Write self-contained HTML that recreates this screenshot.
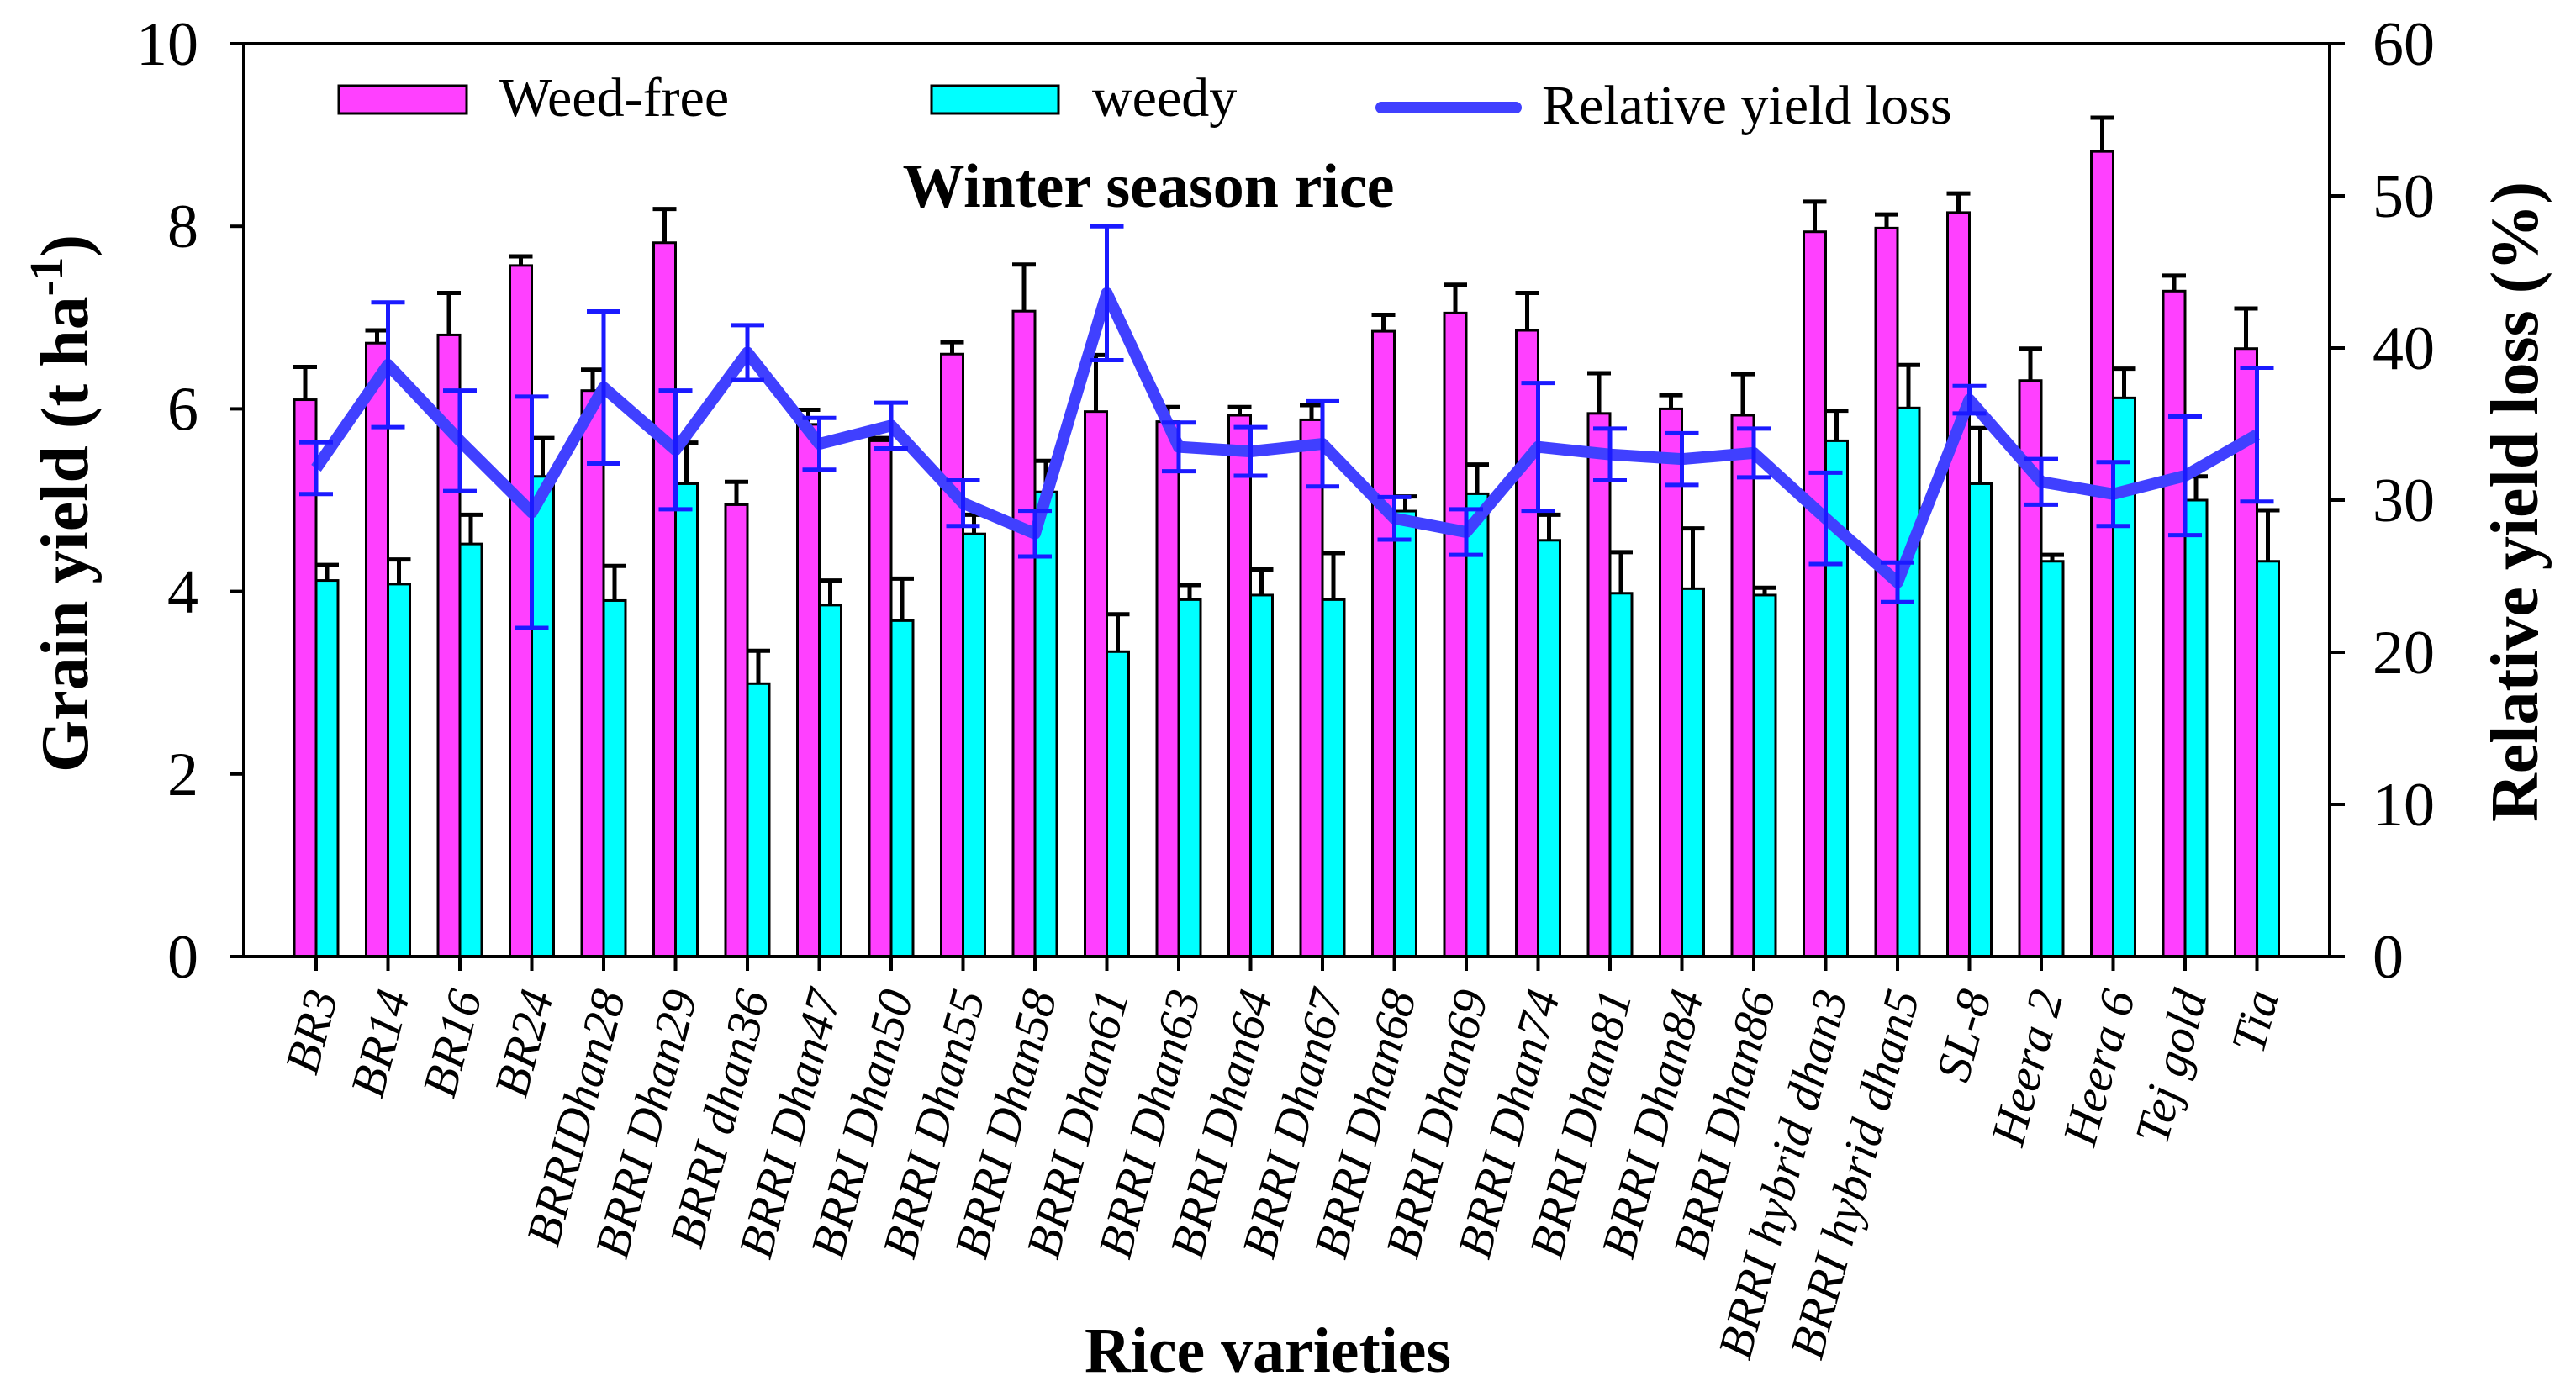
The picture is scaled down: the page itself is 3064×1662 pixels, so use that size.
<!DOCTYPE html>
<html><head><meta charset="utf-8"><style>
html,body{margin:0;padding:0;background:#fff;}
svg{display:block;}
text{font-family:"Liberation Serif",serif;fill:#000;}
</style></head><body>
<svg id="chart" width="3064" height="1662" viewBox="0 0 3064 1662" xmlns="http://www.w3.org/2000/svg">
<g id="bars"></g>
<g id="line"></g>
<g id="axes"></g>
<text x="1366" y="246" font-size="74" font-weight="bold" text-anchor="middle">Winter season rice</text>
<g>
<rect x="403" y="102" width="152" height="33" fill="#ff40ff" stroke="#000" stroke-width="3"/>
<text x="594" y="138" font-size="66">Weed-free</text>
<rect x="1108" y="102" width="151" height="33" fill="#00ffff" stroke="#000" stroke-width="3"/>
<text x="1299" y="138" font-size="66">weedy</text>
<line x1="1643" y1="128" x2="1803" y2="128" stroke="#4040ff" stroke-width="14" stroke-linecap="round"/>
<text x="1834" y="147" font-size="66">Relative yield loss</text>
</g>
<text transform="translate(104,599) rotate(-90)" font-size="80" font-weight="bold" text-anchor="middle">Grain yield (t ha<tspan dy="-30" font-size="56">-1</tspan><tspan dy="30">)</tspan></text>
<text transform="translate(3018,597) rotate(-90)" font-size="80" font-weight="bold" text-anchor="middle">Relative yield loss (%)</text>
<text x="1508" y="1632" font-size="76" font-weight="bold" text-anchor="middle" textLength="436" lengthAdjust="spacingAndGlyphs">Rice varieties</text>
</svg>
<script>
const categories=["BR3","BR14","BR16","BR24","BRRIDhan28","BRRI Dhan29","BRRI dhan36","BRRI Dhan47","BRRI Dhan50","BRRI Dhan55","BRRI Dhan58","BRRI Dhan61","BRRI Dhan63","BRRI Dhan64","BRRI Dhan67","BRRI Dhan68","BRRI Dhan69","BRRI Dhan74","BRRI Dhan81","BRRI Dhan84","BRRI Dhan86","BRRI hybrid dhan3","BRRI hybrid dhan5","SL-8","Heera 2","Heera 6","Tej gold","Tia"];
const weedFree=[6.10,6.72,6.81,7.57,6.20,7.82,4.95,5.83,5.65,6.60,7.07,5.97,5.86,5.93,5.88,6.85,7.05,6.86,5.95,6.00,5.93,7.94,7.98,8.15,6.31,8.82,7.29,6.66];
const weedFreeErr=[0.36,0.14,0.46,0.10,0.23,0.37,0.25,0.16,0.03,0.13,0.51,0.62,0.16,0.09,0.16,0.18,0.31,0.41,0.44,0.15,0.45,0.33,0.15,0.21,0.35,0.37,0.17,0.44];
const weedy=[4.12,4.08,4.52,5.26,3.90,5.18,2.99,3.85,3.68,4.63,5.09,3.34,3.91,3.96,3.91,4.88,5.07,4.56,3.98,4.03,3.96,5.65,6.01,5.18,4.33,6.12,5.00,4.33];
const weedyErr=[0.17,0.27,0.32,0.42,0.38,0.45,0.36,0.27,0.46,0.21,0.34,0.41,0.16,0.28,0.51,0.16,0.32,0.28,0.45,0.66,0.08,0.33,0.47,0.61,0.07,0.32,0.26,0.56];
const yieldLoss=[32.1,38.9,33.9,29.2,37.4,33.3,39.7,33.7,34.9,29.8,27.8,43.6,33.5,33.2,33.7,28.8,27.9,33.5,33.0,32.7,33.1,28.8,24.6,36.6,31.2,30.4,31.6,34.3];
const yieldLossErr=[1.7,4.1,3.3,7.6,5.0,3.9,1.8,1.7,1.5,1.5,1.5,4.4,1.6,1.6,2.8,1.4,1.5,4.2,1.7,1.7,1.6,3.0,1.3,0.9,1.5,2.1,3.9,4.4];
const leftTicks=[0,2,4,6,8,10];
const rightTicks=[0,10,20,30,40,50,60];

const NS="http://www.w3.org/2000/svg";
const X0=290,X1=2771,Y0=1138,Y1=52;
const first=376,step=85.5;
const xc=i=>first+i*step;
const yL=v=>Y0-(v/10)*(Y0-Y1);
const yR=v=>Y0-(v/60)*(Y0-Y1);
function mk(tag,attrs,parent){const e=document.createElementNS(NS,tag);for(const k in attrs)e.setAttribute(k,attrs[k]);parent.appendChild(e);return e;}
const gb=document.getElementById('bars'),gl=document.getElementById('line'),ga=document.getElementById('axes');
const bw=26;
categories.forEach((c,i)=>{
  const x=xc(i);
  let r=mk('rect',{x:x-bw,y:yL(weedFree[i]),width:bw,height:Y0-yL(weedFree[i]),fill:'#ff40ff',stroke:'#000','stroke-width':3},gb);
  
  
  let e=mk('path',{d:`M${x-bw/2},${yL(weedFree[i])}V${yL(weedFree[i]+weedFreeErr[i])}M${x-bw/2-14},${yL(weedFree[i]+weedFreeErr[i])}H${x-bw/2+14}`,stroke:'#000','stroke-width':5,fill:'none'},gb);
  
  
  let r2=mk('rect',{x:x,y:yL(weedy[i]),width:bw,height:Y0-yL(weedy[i]),fill:'#00ffff',stroke:'#000','stroke-width':3},gb);
  
  
  let e2=mk('path',{d:`M${x+bw/2},${yL(weedy[i])}V${yL(weedy[i]+weedyErr[i])}M${x+bw/2-14},${yL(weedy[i]+weedyErr[i])}H${x+bw/2+14}`,stroke:'#000','stroke-width':5,fill:'none'},gb);
  
  
});
const pts=yieldLoss.map((v,i)=>xc(i)+','+yR(v)).join(' ');
const pl=mk('polyline',{points:pts,fill:'none',stroke:'#4040ff','stroke-width':14,'stroke-linejoin':'round'},gl);


yieldLoss.forEach((v,i)=>{
  const x=xc(i),a=yR(v+yieldLossErr[i]),b=yR(v-yieldLossErr[i]);
  const p=mk('path',{d:`M${x},${a}V${b}M${x-20},${a}H${x+20}M${x-20},${b}H${x+20}`,stroke:'#1a1aff','stroke-width':5,fill:'none'},gl);
  
  
});
const fr=mk('path',{d:`M${X0},${Y1}H${X1}V${Y0}H${X0}Z`,fill:'none',stroke:'#000','stroke-width':4},ga);


leftTicks.forEach(v=>{
  const y=yL(v);
  const t=mk('line',{x1:X0-16,x2:X0,y1:y,y2:y,stroke:'#000','stroke-width':4},ga);
  
  
  const l=mk('text',{x:236,y:y+25,'font-size':74,'text-anchor':'end'},ga);
  l.textContent=v;
  
  
});
rightTicks.forEach(v=>{
  const y=yR(v);
  const t=mk('line',{x1:X1,x2:X1+18,y1:y,y2:y,stroke:'#000','stroke-width':4},ga);
  
  
  const l=mk('text',{x:2822,y:y+25,'font-size':74,'text-anchor':'start'},ga);
  l.textContent=v;
  
  
});
categories.forEach((c,i)=>{
  const x=xc(i);
  const t=mk('line',{x1:x,x2:x,y1:Y0,y2:Y0+17,stroke:'#000','stroke-width':4},ga);
  
  
  const l=mk('text',{transform:`translate(${x+26},1184) rotate(-75)`,'font-size':58,'font-style':'italic','text-anchor':'end'},ga);
  l.textContent=c;
  
  
});
</script>
</body></html>
